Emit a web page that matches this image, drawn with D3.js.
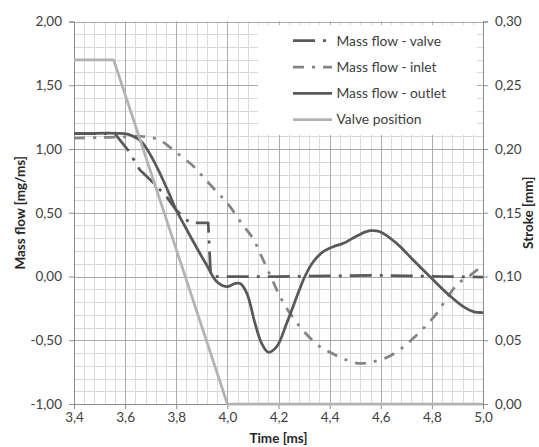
<!DOCTYPE html>
<html>
<head>
<meta charset="utf-8">
<script src="https://cdn.jsdelivr.net/npm/d3@7"></script>
<style>
  html, body { margin: 0; padding: 0; background: #fff; }
  svg { display: block; font-family: Lato, "Open Sans", sans-serif; }
</style>
</head>
<body>
<svg id="chart" width="539" height="447"></svg>
<script>
// Time axis (ms) and tick labels
const xTicks = [3.4, 3.6, 3.8, 4.0, 4.2, 4.4, 4.6, 4.8, 5.0];
const xTickLabels = ["3,4", "3,6", "3,8", "4,0", "4,2", "4,4", "4,6", "4,8", "5,0"];
const yLeftTicks = [-1.0, -0.5, 0.0, 0.5, 1.0, 1.5, 2.0];
const yLeftTickLabels = ["-1,00", "-0,50", "0,00", "0,50", "1,00", "1,50", "2,00"];
const yRightTicks = [0.0, 0.05, 0.10, 0.15, 0.20, 0.25, 0.30];
const yRightTickLabels = ["0,00", "0,05", "0,10", "0,15", "0,20", "0,25", "0,30"];

// Mass flow - valve [mg/ms]
const valveT = [3.40, 3.56, 3.58, 3.612, 3.658, 3.70, 3.762, 3.80, 3.854, 3.925, 3.93, 3.935, 4.00, 4.20, 4.45, 4.58, 4.70, 4.85, 5.00];
const valveV = [1.12, 1.12, 1.07, 0.99, 0.835, 0.755, 0.626, 0.52, 0.42, 0.42, 0.20, 0.0, 0.0, 0.0, 0.005, 0.01, 0.005, 0.0, -0.005];

// Mass flow - inlet [mg/ms]
const inletT = [3.40, 3.50, 3.60, 3.66, 3.70, 3.736, 3.776, 3.821, 3.867, 3.906, 3.952, 4.00, 4.06, 4.10, 4.128, 4.173, 4.206, 4.245, 4.304, 4.362, 4.402, 4.454, 4.512, 4.571, 4.63, 4.682, 4.727, 4.773, 4.819, 4.858, 4.904, 4.943, 4.976, 5.00];
const inletV = [1.085, 1.09, 1.095, 1.10, 1.09, 1.07, 1.013, 0.94, 0.865, 0.78, 0.678, 0.575, 0.405, 0.30, 0.182, -0.014, -0.158, -0.289, -0.441, -0.55, -0.594, -0.645, -0.681, -0.668, -0.629, -0.563, -0.485, -0.394, -0.289, -0.171, -0.053, -0.002, 0.05, 0.08];

// Mass flow - outlet [mg/ms]
const outletT = [3.40, 3.60, 3.625, 3.665, 3.70, 3.736, 3.77, 3.80, 3.835, 3.862, 3.89, 3.919, 3.958, 3.997, 4.03, 4.05, 4.076, 4.108, 4.134, 4.16, 4.193, 4.232, 4.277, 4.304, 4.336, 4.375, 4.414, 4.454, 4.506, 4.558, 4.597, 4.662, 4.727, 4.793, 4.858, 4.923, 4.962, 5.00];
const outletV = [1.12, 1.12, 1.105, 1.055, 0.95, 0.81, 0.66, 0.52, 0.39, 0.29, 0.19, 0.09, -0.04, -0.08, -0.055, -0.055, -0.13, -0.367, -0.524, -0.594, -0.55, -0.367, -0.13, 0.004, 0.116, 0.195, 0.234, 0.26, 0.318, 0.359, 0.351, 0.26, 0.129, -0.002, -0.13, -0.237, -0.276, -0.284];

// Valve position (stroke) [mm]
const strokeT = [3.40, 3.555, 4.00, 5.00];
const strokeV = [0.27, 0.27, 0.0, 0.0];

const seriesNames = ["Mass flow - valve", "Mass flow - inlet", "Mass flow - outlet", "Valve position"];

const svg = d3.select("#chart");
const plotLeft = 74, plotRight = 483, plotTop = 21.5, plotBottom = 404;

const x = d3.scaleLinear().domain([3.4, 5.0]).range([plotLeft, plotRight]);
const yL = d3.scaleLinear().domain([-1, 2]).range([plotBottom, plotTop]);
const yR = d3.scaleLinear().domain([0, 0.3]).range([plotBottom, plotTop]);

const crisp = v => Math.round(v) + 0.5;

// Gridlines: minor first, major on top
const grid = svg.append("g");
const minorX = d3.range(0, 41).map(i => 3.4 + i * 0.04);
const minorY = d3.range(0, 31).map(i => -1 + i * 0.1);
grid.selectAll("line.mx").data(minorX).join("line")
  .attr("x1", d => crisp(x(d))).attr("x2", d => crisp(x(d)))
  .attr("y1", plotTop).attr("y2", plotBottom)
  .attr("stroke", "#d9d9d9").attr("stroke-width", 1);
grid.selectAll("line.my").data(minorY).join("line")
  .attr("y1", d => crisp(yL(d))).attr("y2", d => crisp(yL(d)))
  .attr("x1", plotLeft).attr("x2", plotRight)
  .attr("stroke", "#d9d9d9").attr("stroke-width", 1);
grid.selectAll("line.Mx").data(xTicks).join("line")
  .attr("x1", d => crisp(x(d))).attr("x2", d => crisp(x(d)))
  .attr("y1", plotTop).attr("y2", plotBottom)
  .attr("stroke", "#ababab").attr("stroke-width", 1);
grid.selectAll("line.My").data(yLeftTicks).join("line")
  .attr("y1", d => crisp(yL(d))).attr("y2", d => crisp(yL(d)))
  .attr("x1", plotLeft).attr("x2", plotRight)
  .attr("stroke", "#ababab").attr("stroke-width", 1);

// Axes
const axisColor = "#8c8c8c";
const fmtFrom = (ticks, labels) => d => labels[ticks.findIndex(t => Math.abs(t - d) < 1e-9)];

const gx = svg.append("g").attr("transform", `translate(0,${crisp(plotBottom) - 0.5})`)
  .call(d3.axisBottom(x).tickValues(xTicks).tickFormat(fmtFrom(xTicks, xTickLabels)).tickSizeOuter(0).tickSize(5).tickPadding(3));
const gyl = svg.append("g").attr("transform", `translate(${crisp(plotLeft) - 0.5},0)`)
  .call(d3.axisLeft(yL).tickValues(yLeftTicks).tickFormat(fmtFrom(yLeftTicks, yLeftTickLabels)).tickSizeOuter(0).tickSize(5).tickPadding(7));
const gyr = svg.append("g").attr("transform", `translate(${crisp(plotRight) - 0.5},0)`)
  .call(d3.axisRight(yR).tickValues(yRightTicks).tickFormat(fmtFrom(yRightTicks, yRightTickLabels)).tickSizeOuter(0).tickSize(5).tickPadding(7));

[gx, gyl, gyr].forEach(g => {
  g.select(".domain").attr("stroke", axisColor);
  g.selectAll(".tick line").attr("stroke", axisColor);
  g.selectAll(".tick text").attr("fill", "#404040").style("font-size", "13.5px").style("font-family", "Lato, sans-serif");
});

// Axis titles
svg.append("text").attr("x", (plotLeft + plotRight) / 2).attr("y", 443)
  .attr("text-anchor", "middle").attr("font-weight", "bold").attr("font-size", 13.5).attr("fill", "#262626")
  .text("Time [ms]");
svg.append("text").attr("transform", `translate(25,${(plotTop + plotBottom) / 2}) rotate(-90)`)
  .attr("text-anchor", "middle").attr("font-weight", "bold").attr("font-size", 13.5).attr("fill", "#262626")
  .text("Mass flow [mg/ms]");
svg.append("text").attr("transform", `translate(533,${(plotTop + plotBottom) / 2}) rotate(-90)`)
  .attr("text-anchor", "middle").attr("font-weight", "bold").attr("font-size", 13.5).attr("fill", "#262626")
  .text("Stroke [mm]");

// Series
const zip = (ts, vs) => ts.map((t, i) => [t, vs[i]]);
const lineL = d3.line().x(d => x(d[0])).y(d => yL(d[1]));
const smoothL = d3.line().x(d => x(d[0])).y(d => yL(d[1])).curve(d3.curveCatmullRom.alpha(0.5));
const lineR = d3.line().x(d => x(d[0])).y(d => yR(d[1]));

const styles = [
  { color: "#595959", dash: "22,8,3,8" },
  { color: "#858585", dash: "11,8,3,8" },
  { color: "#595959", dash: null },
  { color: "#b3b3b3", dash: null }
];

const plot = svg.append("g").attr("fill", "none").attr("stroke-width", 2.75).attr("stroke-linejoin", "round");
plot.append("path").attr("d", lineL(zip(valveT, valveV)))
  .attr("stroke", styles[0].color).attr("stroke-dasharray", styles[0].dash);
plot.append("path").attr("d", smoothL(zip(inletT, inletV)))
  .attr("stroke", styles[1].color).attr("stroke-dasharray", styles[1].dash);
plot.append("path").attr("d", smoothL(zip(outletT, outletV)))
  .attr("stroke", styles[2].color);
plot.append("path").attr("d", lineR(zip(strokeT, strokeV)))
  .attr("stroke", styles[3].color);

// Legend
const legend = svg.append("g");
legend.append("rect").attr("x", 258).attr("y", 25).attr("width", 219).attr("height", 110).attr("fill", "#fff");
const rowY = [40.7, 67.0, 93.3, 119.6];
seriesNames.forEach((name, i) => {
  legend.append("line").attr("x1", 293).attr("x2", 332).attr("y1", rowY[i]).attr("y2", rowY[i])
    .attr("stroke", styles[i].color).attr("stroke-width", 2.75)
    .attr("stroke-dasharray", styles[i].dash);
  legend.append("text").attr("x", 336.5).attr("y", rowY[i]).attr("dy", "0.35em")
    .attr("font-size", 13.8).attr("fill", "#404040").text(name);
});
</script>
</body>
</html>
